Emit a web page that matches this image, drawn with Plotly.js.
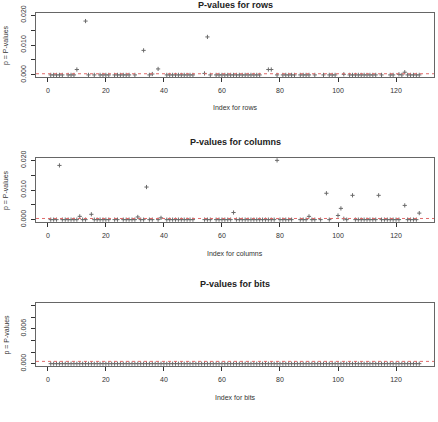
<!DOCTYPE html>
<html>
<head>
<meta charset="utf-8">
<script src="https://cdn.plot.ly/plotly-3.0.1.min.js"></script>
<style>html,body{margin:0;padding:0;background:#fff;}#chart{width:438px;height:422px;}</style>
</head>
<body>
<div id="chart"></div>
<script>
// ---- data ----
const panelTitles = ["P-values for rows", "P-values for columns", "P-values for bits"];
const xTitles = ["Index for rows", "Index for columns", "Index for bits"];
const yTitle = "p = P-values";
const xTickVals = [0, 20, 40, 60, 80, 100, 120];
const xTickText = ["0", "20", "40", "60", "80", "100", "120"];
const yTickVals1 = [0, 0.005, 0.010, 0.015, 0.020];
const yTickText1 = ["0.000", "", "0.010", "", "0.020"];
const yTickVals2 = [0, 0.005, 0.010, 0.015, 0.020];
const yTickText2 = ["0.000", "", "0.010", "", "0.020"];
const yTickVals3 = [0, 0.002, 0.004, 0.006, 0.008, 0.010];
const yTickText3 = ["0.000", "", "", "0.006", "", ""];
const pThreshold = 0.00039;

const rowIndex = [];
for (let i = 1; i <= 128; i++) rowIndex.push(i);

const rowP = [
  0,0,0,0,0,null,0,0,0,0.0018,
  null,null,0.018,0,null,0,null,0,0,0,
  0,null,0,0,0,0,0,0,null,0,
  null,null,0.0082,null,0,0.0003,null,0.0020,null,null,
  0,0,0,0,0,0,0,0,0,0,
  null,null,null,0.0005,0.0127,0,null,0,0,0,
  0,0,0,0,0,0,0,0,0,0,
  0,0,0,null,null,0.0018,0.0018,null,0,null,
  0,0,0,0,0,null,0,0,0,0,
  null,0,null,null,0,null,0,0,0,null,
  null,0.0002,null,0,0,0,0,0,0,0,
  0,0,0,null,0,null,null,0,0,null,
  0.0002,0,0.0009,0,0,0,0,0
];
const colP = [
  0,0,0,0.0183,0,0,0,0,0,0,
  0.0011,0,0,null,0.0018,0,0,0,0,0,
  0,null,0,0,null,0,0,0,0,0,
  0.0009,0,0,0.011,0,0,null,0,0.0006,null,
  0,0,0,0,0,0,0,0,0,0,
  null,null,null,0,0,0,null,0,0,0,
  0,0,0,0.0024,0,0,0,0,0,0,
  0,0,0,0,0,0,0,0,0.020,0,
  0,0,0,0,null,null,0,0,0,0.0011,
  0,0,null,0,null,0.0089,0,null,null,0.0014,
  0.0038,0.0003,0,null,0.0082,0,0,0,0,0,
  0,0,0,0.0082,0,0,0,0,0,0,
  0,null,0.0048,0,0,0,0,0.0022
];
const bitP = [
  0,0,0,0,0,0,0,0,0,0, 0,0,0,0,0,0,0,0,0,0,
  0,0,0,0,0,0,0,0,0,0, 0,0,0,0,0,0,0,0,0,0,
  0,0,0,0,0,0,0,0,0,0, 0,0,0,0,0,0,0,0,0,0,
  0,0,0,0,0,0,0,0,0,0, 0,0,0,0,0,0,0,0,0,0,
  0,0,0,0,0,0,0,0,0,0, 0,0,0,0,0,0,0,0,0,0,
  0,0,0,0,0,0,0,0,0,0, 0,0,0,0,0,0,0,0,0,0,
  0,0,0,0,0,0,0,0
];

// ---- layout helpers ----
const W = 438, H = 422;
const px2x = p => p / W;
const py2y = p => 1 - p / H;
const boxL = 36, boxR = 434;
const boxes = [[13, 77], [158, 222], [303, 366]];
const titleY = [5, 142, 284];
const xTitleY = [108, 253, 397];
const yRanges = [[-0.0007, 0.0207], [-0.0008, 0.0208], [-0.0004, 0.0104]];
const yTV = [yTickVals1, yTickVals2, yTickVals3];
const yTT = [yTickText1, yTickText2, yTickText3];
const series = [rowP, colP, bitP];

const FONT = "Liberation Sans, Arial, sans-serif";
const markerStyle = {symbol: "cross-thin-open", size: 3, line: {width: 1, color: "#6a6a6a"}, color: "#6a6a6a"};

const data = [];
const layout = {
  width: W, height: H,
  margin: {l: 0, r: 0, t: 0, b: 0},
  paper_bgcolor: "#fff", plot_bgcolor: "#fff",
  showlegend: false,
  font: {family: FONT, color: "#222"},
  annotations: [],
  shapes: []
};

for (let k = 0; k < 3; k++) {
  const sfx = k === 0 ? "" : String(k + 1);
  data.push({
    type: "scatter", mode: "markers",
    x: rowIndex, y: series[k],
    xaxis: "x" + sfx, yaxis: "y" + sfx,
    marker: markerStyle, cliponaxis: true, hoverinfo: "x+y"
  });
  layout["xaxis" + sfx] = {
    domain: [px2x(boxL), px2x(boxR)],
    anchor: "y" + sfx,
    range: [-4.08, 133.08],
    tickmode: "array", tickvals: xTickVals, ticktext: xTickText,
    ticks: "outside", ticklen: 4, tickcolor: "#333", tickwidth: 1,
    showline: true, mirror: true, linecolor: "#666", linewidth: 1,
    showgrid: false, zeroline: false,
    tickfont: {family: FONT, size: 7, color: "#333"},
    ticklabelstandoff: 3
  };
  layout["yaxis" + sfx] = {
    domain: [py2y(boxes[k][1]), py2y(boxes[k][0])],
    anchor: "x" + sfx,
    range: yRanges[k],
    tickmode: "array", tickvals: yTV[k], ticktext: yTT[k],
    tickangle: -90,
    ticks: "outside", ticklen: 4, tickcolor: "#333", tickwidth: 1,
    showline: true, mirror: true, linecolor: "#666", linewidth: 1,
    showgrid: false, zeroline: false,
    tickfont: {family: FONT, size: 7, color: "#333"},
    ticklabelstandoff: 2
  };
  layout.shapes.push({
    type: "line", xref: "x" + sfx + " domain", yref: "y" + sfx,
    x0: 0, x1: 1, y0: pThreshold, y1: pThreshold,
    line: {color: "#e06a6a", width: 1, dash: "dot"}, layer: "above"
  });
  layout.annotations.push({
    text: "<b>" + panelTitles[k] + "</b>", xref: "paper", yref: "paper",
    x: px2x((boxL + boxR) / 2), y: py2y(titleY[k]), xanchor: "center", yanchor: "middle",
    showarrow: false, font: {family: FONT, size: 9, color: "#222"}
  });
  layout.annotations.push({
    text: xTitles[k], xref: "paper", yref: "paper",
    x: px2x((boxL + boxR) / 2), y: py2y(xTitleY[k]), xanchor: "center", yanchor: "middle",
    showarrow: false, font: {family: FONT, size: 7, color: "#333"}
  });
  layout.annotations.push({
    text: yTitle, xref: "paper", yref: "paper", textangle: -90,
    x: px2x(6), y: py2y((boxes[k][0] + boxes[k][1]) / 2), xanchor: "center", yanchor: "middle",
    showarrow: false, font: {family: FONT, size: 7, color: "#333"}
  });
}

Plotly.newPlot("chart", data, layout, {staticPlot: true, displayModeBar: false});
</script>
</body>
</html>
